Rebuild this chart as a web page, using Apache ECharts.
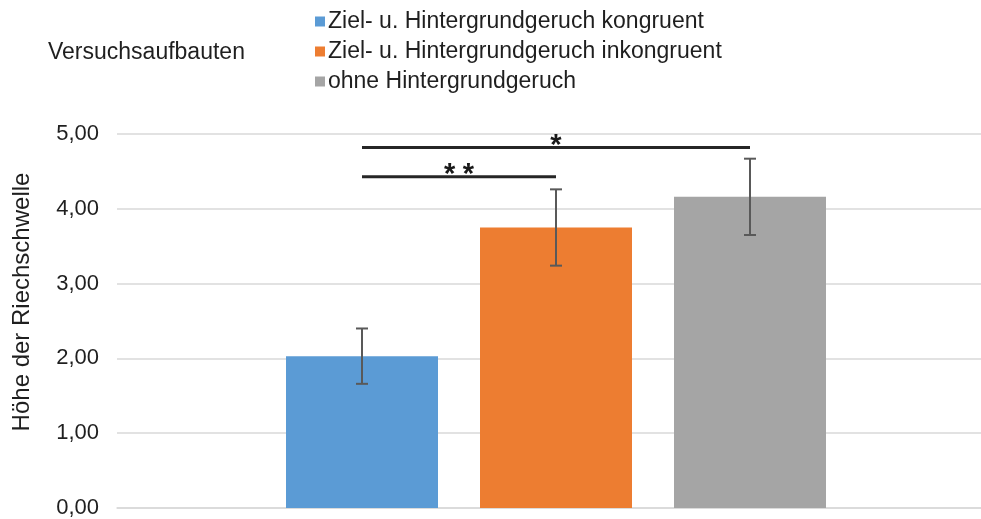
<!DOCTYPE html>
<html>
<head>
<meta charset="utf-8">
<script src="https://cdn.jsdelivr.net/npm/echarts@6/dist/echarts.min.js"></script>
<style>
  html, body { margin: 0; padding: 0; background: #fff; overflow: hidden; }
  /* the plot area runs past the right edge of the page, so the canvas is a bit wider than the window */
  #chart { width: 995px; height: 519px; }
</style>
</head>
<body>
<div id="chart"></div>
<script>
// Mittelwerte und Fehlerbalken der Riechschwelle je Versuchsaufbau
var seriesNames = [
  'Ziel- u. Hintergrundgeruch kongruent',
  'Ziel- u. Hintergrundgeruch inkongruent',
  'ohne Hintergrundgeruch'
];
var meanValues = [2.03, 3.75, 4.16];
var errorValues = [0.37, 0.51, 0.51];
var barColors = ['#5B9BD5', '#ED7D31', '#A5A5A5'];
var yTicks = [0, 1, 2, 3, 4, 5];

// Signifikanzklammern: [von Balken, bis Balken, Höhe, Kennzeichnung]
var sigFrom = [0, 0];
var sigTo = [2, 1];
var sigLevel = [4.82, 4.43];
var sigLabel = ['*', '**'];

var FONT = 'Liberation Sans, Arial, sans-serif';
var BAR_W = 152;
var BAR_GAP = 42;

var chart = echarts.init(document.getElementById('chart'), null, { renderer: 'canvas' });

function barCenterX(api, idx) {
  var base = api.coord([0, 0])[0];
  return base + (idx - (seriesNames.length - 1) / 2) * (BAR_W + BAR_GAP);
}

var barSeries = seriesNames.map(function (name, i) {
  return {
    name: name,
    type: 'bar',
    data: [meanValues[i]],
    barWidth: BAR_W,
    barGap: (BAR_GAP / BAR_W * 100) + '%',
    itemStyle: { color: barColors[i] },
    emphasis: { disabled: true },
    z: 2
  };
});

var errorData = meanValues.map(function (m, i) { return [i, m, errorValues[i]]; });

var errorSeries = {
  type: 'custom',
  name: 'err',
  data: errorData,
  z: 5,
  silent: true,
  renderItem: function (params, api) {
    var idx = api.value(0);
    var m = api.value(1);
    var e = api.value(2);
    var x = barCenterX(api, idx);
    var yTop = api.coord([0, m + e])[1];
    var yBot = api.coord([0, m - e])[1];
    var cap = 6;
    var style = { stroke: '#595959', lineWidth: 2, fill: null };
    return {
      type: 'group',
      children: [
        { type: 'line', shape: { x1: x, y1: yTop, x2: x, y2: yBot }, style: style },
        { type: 'line', shape: { x1: x - cap, y1: yTop, x2: x + cap, y2: yTop }, style: style },
        { type: 'line', shape: { x1: x - cap, y1: yBot, x2: x + cap, y2: yBot }, style: style }
      ]
    };
  }
};

var sigData = sigFrom.map(function (f, i) { return [f, sigTo[i], sigLevel[i], i]; });

var sigSeries = {
  type: 'custom',
  name: 'sig',
  data: sigData,
  z: 6,
  silent: true,
  renderItem: function (params, api) {
    var x1 = barCenterX(api, api.value(0));
    var x2 = barCenterX(api, api.value(1));
    var y = api.coord([0, api.value(2)])[1];
    // Sternchen mit etwas Abstand zueinander setzen
    var label = sigLabel[api.value(3)].split('').join('\u2005');
    return {
      type: 'group',
      children: [
        { type: 'line', shape: { x1: x1, y1: y, x2: x2, y2: y },
          style: { stroke: '#262626', lineWidth: 3 } },
        { type: 'text', x: (x1 + x2) / 2, y: y + 13,
          style: { text: label, fill: '#1a1a1a', font: 'bold 29px ' + FONT,
                   textAlign: 'center', textVerticalAlign: 'bottom' } }
      ]
    };
  }
};

var option = {
  backgroundColor: '#ffffff',
  animation: false,
  textStyle: { fontFamily: FONT },
  grid: { left: 117, top: 134, width: 878, bottom: 10.5, containLabel: false },
  legend: {
    data: seriesNames,
    orient: 'vertical',
    left: 310,
    top: 5,
    itemWidth: 10,
    itemHeight: 10,
    itemGap: 7,
    icon: 'rect',
    selectedMode: false,
    textStyle: { fontSize: 23, color: '#1f1f1f', fontFamily: FONT, padding: [0, 0, 0, -2] }
  },
  xAxis: {
    type: 'category',
    data: [''],
    axisLine: { show: true, lineStyle: { color: '#D9D9D9', width: 1.5 } },
    axisTick: { show: false },
    axisLabel: { show: false }
  },
  yAxis: {
    type: 'value',
    min: yTicks[0],
    max: yTicks[yTicks.length - 1],
    interval: 1,
    axisLine: { show: false },
    axisTick: { show: false },
    splitLine: { lineStyle: { color: '#D9D9D9', width: 1.5 } },
    axisLabel: {
      margin: 18,
      fontSize: 22,
      color: '#1f1f1f',
      fontFamily: FONT,
      formatter: function (v) { return v.toFixed(2).replace('.', ','); }
    }
  },
  graphic: [
    {
      type: 'text',
      x: 48,
      y: 53,
      style: { text: 'Versuchsaufbauten', font: '23px ' + FONT, fill: '#1f1f1f',
               textVerticalAlign: 'middle' }
    },
    {
      type: 'text',
      x: 22,
      y: 302,
      rotation: Math.PI / 2,
      style: { text: 'Höhe der Riechschwelle', font: '24px ' + FONT, fill: '#1f1f1f',
               textAlign: 'center', textVerticalAlign: 'middle' }
    }
  ],
  series: barSeries.concat([errorSeries, sigSeries])
};

chart.setOption(option);
</script>
</body>
</html>
